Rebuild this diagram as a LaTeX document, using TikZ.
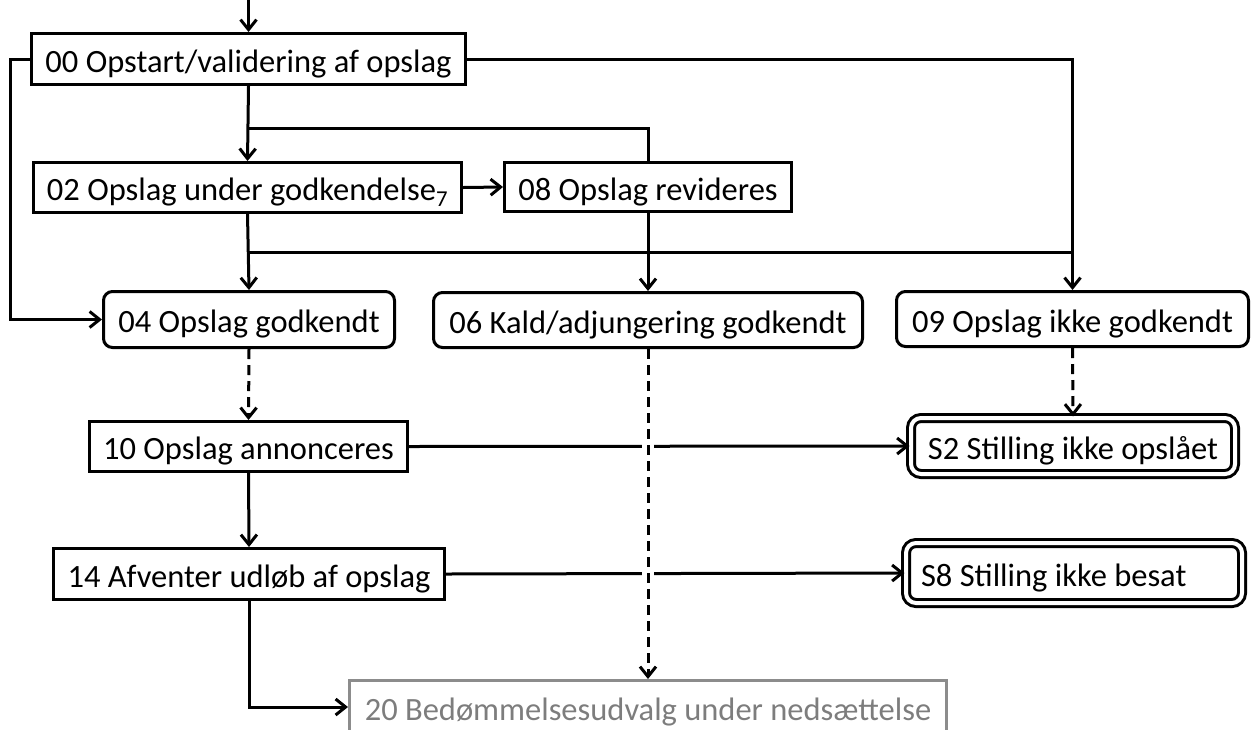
\documentclass[tikz,border=0pt]{standalone}
\usepackage{fontspec}
\setmainfont{Carlito}
\usetikzlibrary{arrows.meta,calc}
\definecolor{gborder}{RGB}{140,140,140}
\definecolor{gtext}{RGB}{125,125,125}
\begin{document}
\begin{tikzpicture}[x=1pt,y=-1pt,
  box/.style={draw, line width=3pt, inner sep=2pt, font=\fontsize{32.5}{38}\selectfont, text height=26pt, text depth=0pt, anchor=center},
  rbox/.style={box, rounded corners=9pt},
  sbox/.style={box, rounded corners=10pt, double=white, double distance=4pt},
  gbox/.style={box, draw=gborder, text=gtext},
  conn/.style={line width=3pt, -{Straight Barb[length=10pt,width=16pt]}},
  plainline/.style={line width=3pt},
  dconn/.style={conn, dash pattern=on 10pt off 6pt},
]
\useasboundingbox (0,0) rectangle (1252,729);

\node[box, minimum width=434, minimum height=51] (n00) at (248.5,59) {00 Opstart/validering af opslag};
\node[box, minimum width=428, minimum height=50] (n02) at (247.5,187.5) {02 Opslag under godkendelse\textsubscript{7}};
\node[box, minimum width=287, minimum height=49] (n08) at (648,187) {08 Opslag revideres};
\node[rbox, minimum width=291, minimum height=56] (n04) at (249,319.5) {04 Opslag godkendt};
\node[rbox, minimum width=429, minimum height=55] (n06) at (648,320) {06 Kald/adjungering godkendt};
\node[rbox, minimum width=352, minimum height=55] (n09) at (1072.5,319) {09 Opslag ikke godkendt};
\node[box, minimum width=318, minimum height=50] (n10) at (248.5,446.5) {10 Opslag annonceres};
\node[sbox, minimum width=324, minimum height=56] (s2) at (1073,446) {S2 Stilling ikke opslået};
\node[box, minimum width=391, minimum height=51] (n14) at (249,574) {14 Afventer udløb af opslag};
\node[sbox, minimum width=336, minimum height=60] (s8) at (1074,573) {\makebox[306pt][l]{S8 Stilling ikke besat}};
\node[gbox, minimum width=597, minimum height=53] (n20) at (648,707) {20 Bedømmelsesudvalg under nedsættelse};

\coordinate (start) at (248.5,0);
\coordinate (j1) at (248.5,128);
\coordinate (j2) at (248.5,252);

% top
\draw[conn] (start) -- (n00.north);
\draw[conn] (n00.west) -- ++(-20,0) |- (n04.west);
\draw[conn] (n00.south) -- (n02.north);
\draw[plainline] (n08.north) |- (j1);
\draw[conn] (n00.east) -| (n09.north);
\draw[conn] (n02.east) -- (n08.west);
\draw[conn] (n02.south) -- (n04.north);
\draw[plainline] (j2) -- (j2 -| n09.north);
\draw[conn] (n08.south) -- (n06.north);

% middle / bottom
\draw[conn] (n10.east) -- (s2.west);
\draw[conn] (n14.east) -- (s8.west);
\fill[white] ($(n06.south |- n10.east)+(-6,-4)$) rectangle ($(n06.south |- n10.east)+(6,4)$);
\fill[white] ($(n06.south |- n14.east)+(-6,-4)$) rectangle ($(n06.south |- n14.east)+(6,4)$);
\draw[dconn] (n04.south) -- (n10.north);
\draw[dconn] (n06.south) -- (n20.north);
\draw[dconn] (n09.south) -- (s2.north);
\draw[conn] (n10.south) -- (n14.north);
\draw[conn] (n14.south) |- (n20.west);
\end{tikzpicture}
\end{document}
